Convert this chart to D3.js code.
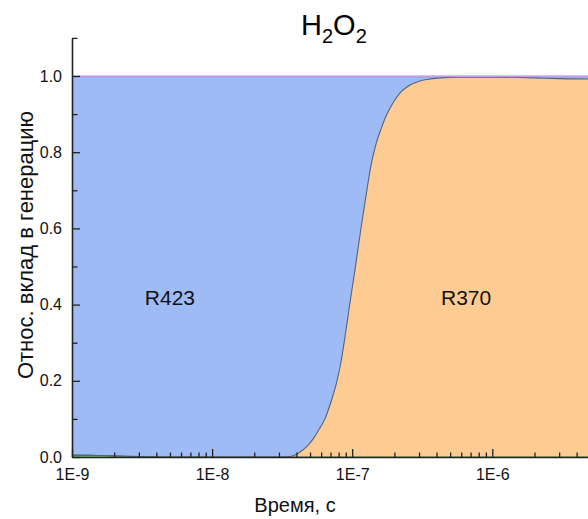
<!DOCTYPE html>
<html><head><meta charset="utf-8">
<script src="https://cdn.jsdelivr.net/npm/d3@7"></script>
<style>
html,body{margin:0;padding:0;background:#fff;overflow:hidden;}
svg{display:block;font-family:"Liberation Sans",Arial,sans-serif;}
</style></head>
<body>
<svg id="chart" width="588" height="519"></svg>
<script>
// ---- data ----
const times = [1e-9, 1.5e-9, 2e-9, 3e-9, 5e-9, 1e-8, 2e-8, 3e-8,
  3.42e-8, 3.84e-8, 4.24e-8, 4.76e-8, 5.25e-8, 5.79e-8, 6.39e-8, 7.06e-8, 7.79e-8, 8.32e-8, 8.88e-8, 9.64e-8,
  1.05e-7, 1.16e-7, 1.26e-7, 1.36e-7, 1.48e-7, 1.61e-7, 1.77e-7, 1.96e-7, 2.19e-7, 2.46e-7, 2.72e-7, 3.05e-7,
  3.42e-7, 4.23e-7, 5.88e-7, 1e-6, 2e-6, 3e-6, 5e-6, 1e-5];
const otherLow = [0.005, 0.004, 0.003, 0.001, 0, 0, 0, 0,
  0, 0, 0, 0, 0, 0, 0, 0, 0, 0, 0, 0,
  0, 0, 0, 0, 0, 0, 0, 0, 0, 0, 0, 0,
  0, 0, 0, 0, 0, 0, 0, 0];
const r370 = [0, 0, 0, 0, 0, 0, 0, 0,
  0.0003, 0.004, 0.013, 0.028, 0.047, 0.072, 0.10, 0.145, 0.20, 0.25, 0.315, 0.405,
  0.495, 0.605, 0.69, 0.765, 0.822, 0.862, 0.90, 0.93, 0.955, 0.971, 0.98, 0.987,
  0.991, 0.995, 0.997, 0.997, 0.995, 0.993, 0.992, 0.991];
const r423 = [0.993, 0.994, 0.995, 0.997, 0.998, 0.998, 0.998, 0.998,
  0.9977, 0.994, 0.985, 0.970, 0.951, 0.926, 0.898, 0.853, 0.798, 0.748, 0.683, 0.593,
  0.503, 0.393, 0.308, 0.233, 0.176, 0.136, 0.098, 0.068, 0.043, 0.027, 0.018, 0.011,
  0.007, 0.003, 0.001, 0.001, 0.003, 0.005, 0.006, 0.007];
const otherTop = [0.002, 0.002, 0.002, 0.002, 0.002, 0.002, 0.002, 0.002,
  0.002, 0.002, 0.002, 0.002, 0.002, 0.002, 0.002, 0.002, 0.002, 0.002, 0.002, 0.002,
  0.002, 0.002, 0.002, 0.002, 0.002, 0.002, 0.002, 0.002, 0.002, 0.002, 0.002, 0.002,
  0.002, 0.002, 0.002, 0.002, 0.002, 0.002, 0.002, 0.002];
const xMajorTicks = [1e-9, 1e-8, 1e-7, 1e-6];
const yMajorTicks = [0, 0.2, 0.4, 0.6, 0.8, 1.0];
const yMinorTicks = [0.1, 0.3, 0.5, 0.7, 0.9, 1.1];
const seriesKeys = ["low", "R370", "R423", "top"];
const seriesLabels = [{key: "R423", t: 5e-9, v: 0.4}, {key: "R370", t: 6.5e-7, v: 0.4}];

// ---- layout ----
const svg = d3.select("#chart");
const x = d3.scaleLog().domain([1e-9, 1e-5]).range([72, 632.4]);
const y = d3.scaleLinear().domain([0, 1.1]).range([457, 457 - 381 * 1.1]);

const rows = times.map((t, i) => ({t, low: otherLow[i], R370: r370[i], R423: r423[i], top: otherTop[i]}));
const stacked = d3.stack().keys(seriesKeys)(rows);
const fills = {low: "#6fbf6f", R370: "#fecc92", R423: "#9ebbf5", top: "#dca9ec"};
const strokes = {low: "#3f9a48", R370: "#55627a", R423: "#6f8fd8", top: "#d7a3e8"};

const area = d3.area().curve(d3.curveMonotoneX)
  .x(d => x(d.data.t)).y0(d => y(d[0])).y1(d => y(d[1]));
const line = d3.line().curve(d3.curveMonotoneX)
  .x(d => x(d.data.t)).y(d => y(d[1]));

const g = svg.append("g");
g.selectAll("path.area").data(stacked).join("path")
  .attr("class", "area").attr("d", area).attr("fill", d => fills[d.key]);
g.selectAll("path.edge").data(stacked).join("path")
  .attr("class", "edge").attr("d", line).attr("fill", "none")
  .attr("stroke", d => strokes[d.key]).attr("stroke-width", d => d.key === "top" ? 1.6 : 1.1);

// ---- axes ----
const xMinor = [];
xMajorTicks.forEach(m => { for (let k = 2; k <= 9; k++) xMinor.push(m * k); });

const xAxis = d3.axisBottom(x).tickValues(xMajorTicks)
  .tickFormat(d => "1E" + Math.round(Math.log10(d))).tickSize(-8).tickSizeOuter(0).tickPadding(12);
const gx = svg.append("g").attr("transform", `translate(0,${y(0)})`).call(xAxis);
gx.selectAll("text").attr("font-size", 16).attr("fill", "#111").attr("font-family", "Liberation Sans, Arial, sans-serif");
const gxm = svg.append("g").attr("transform", `translate(0,${y(0)})`)
  .call(d3.axisBottom(x).tickValues(xMinor).tickFormat("").tickSize(-4.5).tickSizeOuter(0));
gxm.select(".domain").remove();

const yAxis = d3.axisLeft(y).tickValues(yMajorTicks).tickFormat(d3.format(".1f"))
  .tickSize(-8).tickSizeOuter(0).tickPadding(10);
const gy = svg.append("g").attr("transform", `translate(${x(1e-9)},0)`).call(yAxis);
gy.selectAll("text").attr("font-size", 16).attr("fill", "#111").attr("font-family", "Liberation Sans, Arial, sans-serif");
const gym = svg.append("g").attr("transform", `translate(${x(1e-9)},0)`)
  .call(d3.axisLeft(y).tickValues(yMinorTicks).tickFormat("").tickSize(-5.5).tickSizeOuter(0));
gym.select(".domain").remove();

svg.selectAll(".domain").attr("stroke", "#222").attr("stroke-width", 1.6);
svg.selectAll(".tick line").attr("stroke", "#222").attr("stroke-width", 1.3);

// ---- texts ----
const title = svg.append("text").attr("x", 301).attr("y", 35).attr("font-size", 29).attr("fill", "#000");
title.append("tspan").text("H");
title.append("tspan").attr("font-size", 20).attr("dy", 8).text("2");
title.append("tspan").attr("dy", -8).text("O");
title.append("tspan").attr("font-size", 20).attr("dy", 8).text("2");

svg.append("text").attr("x", 295).attr("y", 512).attr("text-anchor", "middle")
  .attr("font-size", 20).attr("fill", "#111").text("Время, с");

svg.append("text").attr("transform", "translate(33,245) rotate(-90)").attr("text-anchor", "middle")
  .attr("font-size", 22).attr("fill", "#111").text("Относ. вклад в генерацию");

svg.selectAll("text.series").data(seriesLabels).join("text").attr("class", "series")
  .attr("x", d => x(d.t)).attr("y", d => y(d.v)).attr("text-anchor", "middle")
  .attr("font-size", 21).attr("fill", "#111").text(d => d.key);
</script>
</body></html>
